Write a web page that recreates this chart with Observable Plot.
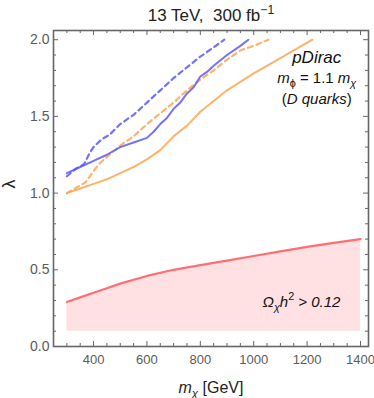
<!DOCTYPE html>
<html><head><meta charset="utf-8">
<script src="https://cdn.jsdelivr.net/npm/d3@7"></script>
<script src="https://cdn.jsdelivr.net/npm/@observablehq/plot@0.6"></script>
<style>body{margin:0;background:#fff}</style>
</head><body><div id="chart"></div>
<script>
// --- data ---
const blueSolidM   = [300,350,400,450,500,550,600,625,650,675,700,725,750,775,800,825,850,900,950,980];
const blueSolidLam = [1.13,1.17,1.21,1.25,1.30,1.33,1.36,1.40,1.45,1.49,1.55,1.59,1.65,1.69,1.76,1.79,1.83,1.90,1.96,2.00];
const blueDashM    = [300,335,365,385,400,430,460,500,550,600,650,700,750,800,850,890];
const blueDashLam  = [1.11,1.16,1.19,1.26,1.30,1.35,1.38,1.45,1.51,1.59,1.67,1.75,1.82,1.89,1.95,2.00];
const orangeSolidM   = [300,350,400,450,500,550,600,650,700,750,800,850,900,1000,1100,1150,1220];
const orangeSolidLam = [1.00,1.03,1.06,1.09,1.13,1.17,1.22,1.28,1.37,1.44,1.53,1.60,1.67,1.78,1.88,1.93,2.00];
const orangeDashM   = [300,340,370,395,420,460,500,550,600,650,700,750,800,850,900,950,1000,1055];
const orangeDashLam = [1.00,1.04,1.07,1.13,1.19,1.25,1.31,1.37,1.45,1.52,1.59,1.67,1.74,1.80,1.87,1.93,1.96,2.00];
const relicM   = [300,350,400,450,500,600,700,800,900,1000,1100,1200,1300,1400];
const relicLam = [0.29,0.32,0.35,0.38,0.41,0.46,0.50,0.53,0.56,0.59,0.62,0.65,0.675,0.70];
const relicFloor = 0.1;

const xMajor = [400,600,800,1000,1200,1400];
const xMinor = [300,350,450,500,550,650,700,750,850,900,950,1050,1100,1150,1250,1300,1350];
const yMajor = [0,0.5,1.0,1.5,2.0];
const yMinor = [0.1,0.2,0.3,0.4,0.6,0.7,0.8,0.9,1.1,1.2,1.3,1.4,1.6,1.7,1.8,1.9];

const titleParts = [{t:"13 TeV,  300 fb"},{t:"\u22121", sup:true}];
const xLabelParts = [{t:"m", it:true},{t:"\u03c7", it:true, sub:true},{t:" [GeV]"}];
const yLabel = "\u03bb";
const modelParts = [{t:"pDirac", it:true}];
const massParts = [{t:"m", it:true},{t:"\u03d5", sub:true},{t:" = 1.1 "},{t:"m", it:true},{t:"\u03c7", it:true, sub:true}];
const quarkParts = [{t:"("},{t:"D quarks", it:true},{t:")"}];
const relicParts = [{t:"\u03a9", it:true},{t:"\u03c7", it:true, sub:true},{t:"h", it:true},{t:"2", sup:true},{t:" > 0.12", it:true}];

const zip = (ms, ls) => ms.map((m, i) => ({m, lam: ls[i]}));
const blueSolid = zip(blueSolidM, blueSolidLam);
const blueDash = zip(blueDashM, blueDashLam);
const orangeSolid = zip(orangeSolidM, orangeSolidLam);
const orangeDash = zip(orangeDashM, orangeDashLam);
const relic = zip(relicM, relicLam);
const plain = parts => parts.map(p => p.t).join("");

const W = 374, H = 398, mT = 30, mR = 6, mB = 52, mL = 53;
const fh = H - mT - mB, fw = W - mL - mR;
const BLUE = "#5b5bf6", ORANGE = "#ffa552", RED = "#ff6f72";
const axisCol = "#666";

const svg = Plot.plot({
  width: W, height: H, marginTop: mT, marginRight: mR, marginBottom: mB, marginLeft: mL,
  x: {domain: [250, 1430]},
  y: {domain: [0, 2.06]},
  style: {fontFamily: "'Liberation Sans', Arial, sans-serif", background: "#fff", color: "#5a5a5a"},
  marks: [
    Plot.areaY(relic, {x: "m", y1: relicFloor, y2: "lam", fill: "#ffe1e4"}),
    Plot.line(relic, {x: "m", y: "lam", stroke: RED, strokeWidth: 2.2}),
    Plot.line(orangeSolid, {x: "m", y: "lam", stroke: ORANGE, strokeOpacity: 0.85, strokeWidth: 2}),
    Plot.line(orangeDash, {x: "m", y: "lam", stroke: ORANGE, strokeOpacity: 0.85, strokeWidth: 2.2, strokeDasharray: "5,4"}),
    Plot.line(blueSolid, {x: "m", y: "lam", stroke: BLUE, strokeOpacity: 0.85, strokeWidth: 2}),
    Plot.line(blueDash, {x: "m", y: "lam", stroke: BLUE, strokeOpacity: 0.85, strokeWidth: 2.2, strokeDasharray: "5,4"}),
    // ticks (inward, all four sides)
    Plot.ruleX(xMajor, {insetTop: fh - 5, stroke: axisCol}),
    Plot.ruleX(xMinor, {insetTop: fh - 3, stroke: axisCol}),
    Plot.ruleX(xMajor, {insetBottom: fh - 5, stroke: axisCol}),
    Plot.ruleX(xMinor, {insetBottom: fh - 3, stroke: axisCol}),
    Plot.ruleY(yMajor, {insetRight: fw - 5, stroke: axisCol}),
    Plot.ruleY(yMinor, {insetRight: fw - 3, stroke: axisCol}),
    Plot.ruleY(yMajor, {insetLeft: fw - 5, stroke: axisCol}),
    Plot.ruleY(yMinor, {insetLeft: fw - 3, stroke: axisCol}),
    Plot.frame({stroke: axisCol, strokeWidth: 1.6}),
    Plot.axisX(xMajor, {tickSize: 0, tickPadding: 8, fontSize: 13, label: null, tickFormat: d3.format("d")}),
    Plot.axisY(yMajor, {tickSize: 0, tickPadding: 4, fontSize: 14, label: null, tickFormat: d3.format(".1f")}),
    // titles and labels
    Plot.text([plain(titleParts)], {frameAnchor: "top", dy: -9.5, lineAnchor: "bottom", fontSize: 17, fill: "#222"}),
    Plot.text([plain(xLabelParts)], {frameAnchor: "bottom", dy: 46, lineAnchor: "bottom", fontSize: 16, fill: "#222"}),
    Plot.text([yLabel], {frameAnchor: "left", dx: -44, rotate: -90, fontSize: 18, fill: "#222"}),
    Plot.text([plain(modelParts)], {x: 1236, y: 1.851, lineAnchor: "bottom", fontSize: 17, fill: "#111"}),
    Plot.text([plain(massParts)], {x: 1236, y: 1.716, lineAnchor: "bottom", fontSize: 15, fill: "#111"}),
    Plot.text([plain(quarkParts)], {x: 1236, y: 1.58, lineAnchor: "bottom", fontSize: 15, fill: "#111"}),
    Plot.text([plain(relicParts)], {x: 1325, y: 0.259, textAnchor: "end", lineAnchor: "bottom", fontSize: 15, fill: "#111"})
  ]
});

const NS = "http://www.w3.org/2000/svg";
function rich(parts, size) {
  const str = plain(parts);
  const t = Array.from(svg.querySelectorAll("text")).find(e => e.textContent === str);
  if (!t) return;
  t.textContent = "";
  t.style.whiteSpace = "pre";
  let shift = 0;
  for (const p of parts) {
    const s = document.createElementNS(NS, "tspan");
    const target = p.sub ? size * 0.28 : p.sup ? -size * 0.42 : 0;
    if (target - shift) s.setAttribute("dy", target - shift);
    shift = target;
    if (p.it) s.setAttribute("font-style", "italic");
    if (p.sub || p.sup) s.setAttribute("font-size", (size * 0.72).toFixed(1));
    s.textContent = p.t;
    t.appendChild(s);
  }
}
rich(titleParts, 17);
rich(xLabelParts, 16);
rich(modelParts, 17);
rich(massParts, 15);
rich(quarkParts, 15);
rich(relicParts, 15);

document.getElementById("chart").appendChild(svg);
</script>
</body></html>
